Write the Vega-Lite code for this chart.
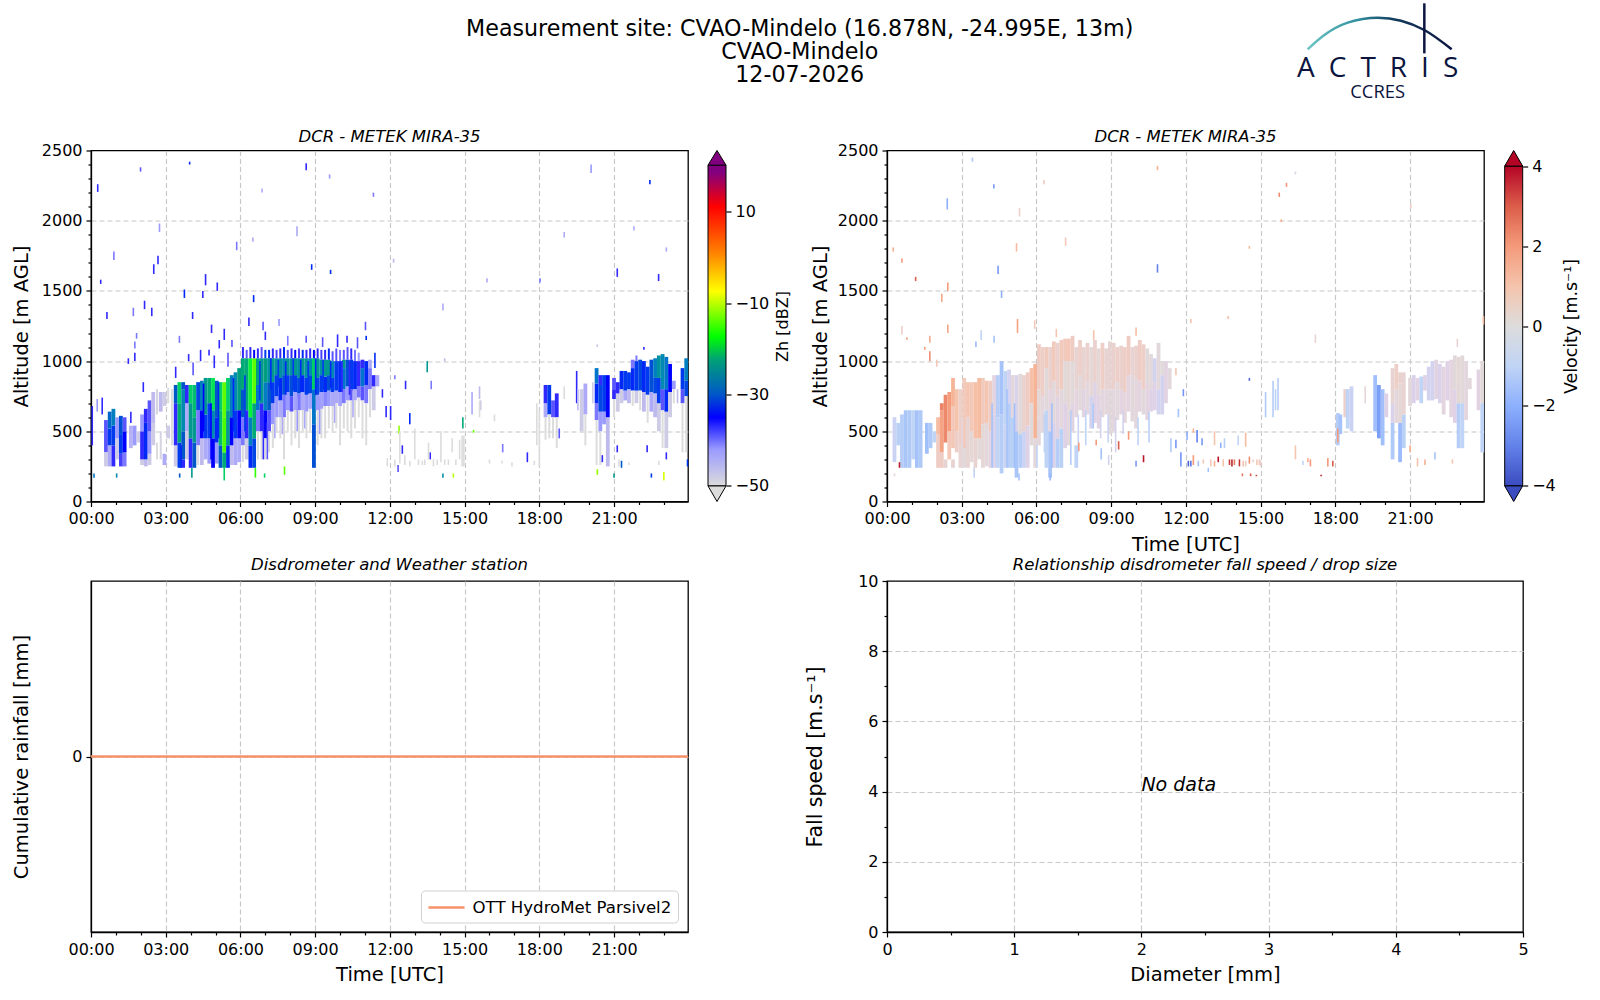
{"$schema":"https://vega.github.io/schema/vega-lite/v6.json","padding":{"left":10,"top":0,"right":0,"bottom":0},"background":"white",
"title":{"text":["Measurement site: CVAO-Mindelo (16.878N, -24.995E, 13m)","CVAO-Mindelo","12-07-2026"],"font":"DejaVu Sans","fontSize":22.2,"fontStyle":"normal","fontWeight":"normal","lineHeight":23,"anchor":"middle","offset":-86,"dx":4.5,"color":"#000"},
"config":{"view":{"stroke":null},"font":"DejaVu Sans","axis":{"labelFont":"DejaVu Sans","titleFont":"DejaVu Sans","labelFontSize":16,"titleFontSize":19.5,"titleFontWeight":"normal","titlePadding":8.5,"labelColor":"#000","titleColor":"#000","tickColor":"#000","domainColor":"#000","domainWidth":1.3,"tickWidth":1.2,"labelOverlap":false,"labelBound":false,"labelFlush":false,"zindex":1,"gridColor":"#c8c8c8","gridDash":[5,3],"gridWidth":1.2,"labelPadding":4},"title":{"font":"DejaVu Sans","fontStyle":"italic","fontWeight":"normal","fontSize":16.5,"color":"#000"},"legend":{"labelFont":"DejaVu Sans"}},
"columns":4,"bounds":"flush","align":"none","spacing":{"row":79.5,"column":20},
"datasets":{
"zcols":[
{"t":0.6,"a":350,"b":580,"z":-38},{"t":0.6,"a":250,"b":350,"z":-48},{"t":0.75,"a":250,"b":400,"z":-44},{"t":0.75,"a":400,"b":520,"z":-33},{"t":0.75,"a":520,"b":640,"z":-29},{"t":0.9,"a":250,"b":400,"z":-36},{"t":0.9,"a":400,"b":540,"z":-33},{"t":0.9,"a":540,"b":660,"z":-27},{"t":1.05,"a":300,"b":450,"z":-48},{"t":1.05,"a":450,"b":600,"z":-42},{"t":1.2,"a":250,"b":340,"z":-37},{"t":1.2,"a":340,"b":480,"z":-33},{"t":1.2,"a":480,"b":610,"z":-31},{"t":1.35,"a":250,"b":350,"z":-40},{"t":1.35,"a":350,"b":500,"z":-35},{"t":1.35,"a":500,"b":600,"z":-38},
{"t":1.6,"a":380,"b":540,"z":-45},{"t":1.75,"a":400,"b":540,"z":-42},{"t":1.9,"a":420,"b":500,"z":-48},
{"t":2.05,"a":260,"b":300,"z":-48},{"t":2.05,"a":300,"b":500,"z":-36},{"t":2.05,"a":500,"b":620,"z":-42},{"t":2.2,"a":250,"b":300,"z":-46},{"t":2.2,"a":300,"b":560,"z":-34},{"t":2.2,"a":560,"b":660,"z":-36},{"t":2.35,"a":260,"b":340,"z":-48},{"t":2.35,"a":340,"b":500,"z":-42},{"t":2.35,"a":500,"b":720,"z":-38},{"t":2.5,"a":400,"b":560,"z":-48},{"t":2.5,"a":560,"b":780,"z":-46},{"t":2.65,"a":300,"b":420,"z":-50},{"t":2.65,"a":620,"b":800,"z":-49},{"t":2.8,"a":300,"b":500,"z":-49},{"t":2.8,"a":640,"b":780,"z":-46},{"t":2.95,"a":260,"b":340,"z":-44},{"t":2.95,"a":680,"b":780,"z":-48},{"t":3.1,"a":450,"b":540,"z":-48},{"t":3.1,"a":700,"b":810,"z":-50},{"t":3.25,"a":400,"b":800,"z":-50},
{"t":3.4,"a":250,"b":400,"z":-48},{"t":3.4,"a":400,"b":700,"z":-36},{"t":3.4,"a":700,"b":830,"z":-30},
{"t":3.55,"a":240,"b":420,"z":-33},{"t":3.55,"a":420,"b":700,"z":-22},{"t":3.55,"a":700,"b":850,"z":-20},
{"t":3.7,"a":240,"b":300,"z":-36},{"t":3.7,"a":300,"b":500,"z":-30},{"t":3.7,"a":500,"b":800,"z":-26},{"t":3.7,"a":800,"b":850,"z":-30},
{"t":3.85,"a":300,"b":500,"z":-48},{"t":3.85,"a":500,"b":700,"z":-44},{"t":3.85,"a":700,"b":830,"z":-36},
{"t":4.0,"a":240,"b":450,"z":-36},{"t":4.0,"a":450,"b":700,"z":-24},{"t":4.0,"a":700,"b":830,"z":-20},
{"t":4.15,"a":240,"b":420,"z":-30},{"t":4.15,"a":420,"b":600,"z":-24},{"t":4.15,"a":600,"b":830,"z":-21},
{"t":4.3,"a":260,"b":400,"z":-50},{"t":4.3,"a":400,"b":650,"z":-40},{"t":4.3,"a":650,"b":850,"z":-32},
{"t":4.45,"a":260,"b":450,"z":-46},{"t":4.45,"a":450,"b":650,"z":-35},{"t":4.45,"a":650,"b":860,"z":-27},
{"t":4.6,"a":300,"b":450,"z":-44},{"t":4.6,"a":450,"b":620,"z":-33},{"t":4.6,"a":620,"b":880,"z":-24},
{"t":4.75,"a":270,"b":450,"z":-42},{"t":4.75,"a":450,"b":700,"z":-33},{"t":4.75,"a":700,"b":880,"z":-22},
{"t":4.9,"a":240,"b":450,"z":-35},{"t":4.9,"a":450,"b":650,"z":-26},{"t":4.9,"a":650,"b":880,"z":-19},
{"t":5.05,"a":270,"b":420,"z":-42},{"t":5.05,"a":420,"b":600,"z":-34},{"t":5.05,"a":600,"b":860,"z":-30},
{"t":5.2,"a":240,"b":400,"z":-30},{"t":5.2,"a":400,"b":650,"z":-21},{"t":5.2,"a":650,"b":850,"z":-20},
{"t":5.35,"a":240,"b":350,"z":-22},{"t":5.35,"a":350,"b":600,"z":-16.5},{"t":5.35,"a":600,"b":850,"z":-16},
{"t":5.5,"a":240,"b":400,"z":-34},{"t":5.5,"a":400,"b":650,"z":-24},{"t":5.5,"a":650,"b":880,"z":-20},
{"t":5.65,"a":260,"b":400,"z":-46},{"t":5.65,"a":400,"b":600,"z":-35},{"t":5.65,"a":600,"b":900,"z":-27},
{"t":5.8,"a":260,"b":450,"z":-44},{"t":5.8,"a":450,"b":650,"z":-33},{"t":5.8,"a":650,"b":920,"z":-26},
{"t":5.95,"a":280,"b":450,"z":-44},{"t":5.95,"a":450,"b":650,"z":-35},{"t":5.95,"a":650,"b":950,"z":-23},
{"t":6.1,"a":280,"b":400,"z":-50},{"t":6.1,"a":400,"b":600,"z":-40},{"t":6.1,"a":600,"b":800,"z":-30},{"t":6.1,"a":800,"b":1020,"z":-22},{"t":6.1,"a":1020,"b":1100,"z":-36},
{"t":6.25,"a":300,"b":450,"z":-48},{"t":6.25,"a":450,"b":650,"z":-36},{"t":6.25,"a":650,"b":1020,"z":-22},{"t":6.25,"a":1020,"b":1080,"z":-38},
{"t":6.4,"a":240,"b":400,"z":-34},{"t":6.4,"a":400,"b":600,"z":-27},{"t":6.4,"a":600,"b":1020,"z":-18},{"t":6.4,"a":1020,"b":1100,"z":-36},
{"t":6.55,"a":240,"b":450,"z":-32},{"t":6.55,"a":450,"b":700,"z":-22},{"t":6.55,"a":700,"b":1020,"z":-16},{"t":6.55,"a":1020,"b":1080,"z":-35},
{"t":6.7,"a":300,"b":500,"z":-50},{"t":6.7,"a":500,"b":650,"z":-40},{"t":6.7,"a":650,"b":830,"z":-28},{"t":6.7,"a":830,"b":1020,"z":-23},{"t":6.7,"a":1020,"b":1090,"z":-36},
{"t":6.85,"a":300,"b":500,"z":-50},{"t":6.85,"a":500,"b":700,"z":-36},{"t":6.85,"a":700,"b":1020,"z":-24},{"t":6.85,"a":1020,"b":1100,"z":-38},
{"t":7.0,"a":300,"b":450,"z":-50},{"t":7.0,"a":450,"b":650,"z":-35},{"t":7.0,"a":650,"b":850,"z":-27},{"t":7.0,"a":850,"b":1020,"z":-23},{"t":7.0,"a":1020,"b":1080,"z":-33},
{"t":7.15,"a":350,"b":500,"z":-50},{"t":7.15,"a":500,"b":650,"z":-38},{"t":7.15,"a":650,"b":850,"z":-30},{"t":7.15,"a":850,"b":1020,"z":-25},{"t":7.15,"a":1020,"b":1080,"z":-34},
{"t":7.3,"a":380,"b":550,"z":-50},{"t":7.3,"a":550,"b":700,"z":-42},{"t":7.3,"a":700,"b":850,"z":-33},{"t":7.3,"a":850,"b":1020,"z":-24},{"t":7.3,"a":1020,"b":1090,"z":-36},
{"t":7.45,"a":500,"b":600,"z":-50},{"t":7.45,"a":600,"b":750,"z":-42},{"t":7.45,"a":750,"b":900,"z":-33},{"t":7.45,"a":900,"b":1020,"z":-25},{"t":7.45,"a":1020,"b":1080,"z":-37},
{"t":7.6,"a":450,"b":600,"z":-50},{"t":7.6,"a":600,"b":720,"z":-44},{"t":7.6,"a":720,"b":880,"z":-34},{"t":7.6,"a":880,"b":1020,"z":-25},{"t":7.6,"a":1020,"b":1090,"z":-36},
{"t":7.75,"a":300,"b":600,"z":-50},{"t":7.75,"a":600,"b":760,"z":-40},{"t":7.75,"a":760,"b":900,"z":-31},{"t":7.75,"a":900,"b":1020,"z":-26},{"t":7.75,"a":1020,"b":1100,"z":-34},
{"t":7.9,"a":500,"b":650,"z":-50},{"t":7.9,"a":650,"b":780,"z":-42},{"t":7.9,"a":780,"b":900,"z":-33},{"t":7.9,"a":900,"b":1020,"z":-24},{"t":7.9,"a":1020,"b":1080,"z":-38},
{"t":8.05,"a":400,"b":640,"z":-50},{"t":8.05,"a":640,"b":750,"z":-38},{"t":8.05,"a":750,"b":900,"z":-31},{"t":8.05,"a":900,"b":1020,"z":-25},{"t":8.05,"a":1020,"b":1090,"z":-36},
{"t":8.2,"a":450,"b":650,"z":-50},{"t":8.2,"a":650,"b":780,"z":-43},{"t":8.2,"a":780,"b":900,"z":-33},{"t":8.2,"a":900,"b":1020,"z":-24},{"t":8.2,"a":1020,"b":1080,"z":-35},
{"t":8.35,"a":380,"b":650,"z":-50},{"t":8.35,"a":650,"b":770,"z":-40},{"t":8.35,"a":770,"b":880,"z":-32},{"t":8.35,"a":880,"b":1020,"z":-25},{"t":8.35,"a":1020,"b":1090,"z":-37},
{"t":8.5,"a":500,"b":650,"z":-50},{"t":8.5,"a":650,"b":780,"z":-44},{"t":8.5,"a":780,"b":900,"z":-34},{"t":8.5,"a":900,"b":1020,"z":-24},{"t":8.5,"a":1020,"b":1080,"z":-34},
{"t":8.65,"a":450,"b":640,"z":-50},{"t":8.65,"a":640,"b":760,"z":-42},{"t":8.65,"a":760,"b":880,"z":-33},{"t":8.65,"a":880,"b":1020,"z":-25},{"t":8.65,"a":1020,"b":1080,"z":-36},
{"t":8.8,"a":500,"b":660,"z":-50},{"t":8.8,"a":660,"b":770,"z":-43},{"t":8.8,"a":770,"b":900,"z":-32},{"t":8.8,"a":900,"b":1020,"z":-26},{"t":8.8,"a":1020,"b":1090,"z":-36},
{"t":8.95,"a":240,"b":550,"z":-31},{"t":8.95,"a":550,"b":800,"z":-28},{"t":8.95,"a":800,"b":1020,"z":-20},{"t":8.95,"a":1020,"b":1080,"z":-35},
{"t":9.1,"a":400,"b":650,"z":-50},{"t":9.1,"a":650,"b":760,"z":-42},{"t":9.1,"a":760,"b":880,"z":-32},{"t":9.1,"a":880,"b":1020,"z":-24},{"t":9.1,"a":1020,"b":1090,"z":-36},
{"t":9.25,"a":450,"b":660,"z":-50},{"t":9.25,"a":660,"b":780,"z":-43},{"t":9.25,"a":780,"b":900,"z":-33},{"t":9.25,"a":900,"b":1010,"z":-25},{"t":9.25,"a":1010,"b":1080,"z":-37},
{"t":9.4,"a":450,"b":680,"z":-50},{"t":9.4,"a":680,"b":780,"z":-41},{"t":9.4,"a":780,"b":890,"z":-34},{"t":9.4,"a":890,"b":1010,"z":-24},{"t":9.4,"a":1010,"b":1080,"z":-36},
{"t":9.55,"a":520,"b":680,"z":-50},{"t":9.55,"a":680,"b":790,"z":-42},{"t":9.55,"a":790,"b":900,"z":-31},{"t":9.55,"a":900,"b":1010,"z":-24},{"t":9.55,"a":1010,"b":1090,"z":-34},
{"t":9.7,"a":500,"b":680,"z":-50},{"t":9.7,"a":680,"b":780,"z":-44},{"t":9.7,"a":780,"b":880,"z":-33},{"t":9.7,"a":880,"b":1000,"z":-26},{"t":9.7,"a":1000,"b":1070,"z":-38},
{"t":9.85,"a":520,"b":700,"z":-50},{"t":9.85,"a":700,"b":790,"z":-44},{"t":9.85,"a":790,"b":1000,"z":-33},{"t":9.85,"a":1000,"b":1090,"z":-38},
{"t":10.0,"a":400,"b":680,"z":-50},{"t":10.0,"a":680,"b":780,"z":-43},{"t":10.0,"a":780,"b":1000,"z":-34},{"t":10.0,"a":1000,"b":1080,"z":-40},
{"t":10.15,"a":520,"b":700,"z":-50},{"t":10.15,"a":700,"b":800,"z":-40},{"t":10.15,"a":800,"b":950,"z":-28},{"t":10.15,"a":950,"b":1010,"z":-24},{"t":10.15,"a":1010,"b":1080,"z":-38},
{"t":10.3,"a":500,"b":720,"z":-50},{"t":10.3,"a":720,"b":820,"z":-42},{"t":10.3,"a":820,"b":1010,"z":-31},{"t":10.3,"a":1010,"b":1100,"z":-38},
{"t":10.45,"a":450,"b":720,"z":-50},{"t":10.45,"a":720,"b":800,"z":-38},{"t":10.45,"a":800,"b":1010,"z":-33},{"t":10.45,"a":1010,"b":1090,"z":-36},
{"t":10.6,"a":520,"b":720,"z":-50},{"t":10.6,"a":720,"b":800,"z":-44},{"t":10.6,"a":800,"b":1000,"z":-34},{"t":10.6,"a":1000,"b":1080,"z":-40},
{"t":10.75,"a":600,"b":740,"z":-50},{"t":10.75,"a":740,"b":820,"z":-40},{"t":10.75,"a":820,"b":1000,"z":-36},{"t":10.75,"a":1000,"b":1060,"z":-42},
{"t":10.9,"a":450,"b":720,"z":-50},{"t":10.9,"a":720,"b":820,"z":-38},{"t":10.9,"a":820,"b":950,"z":-28},{"t":10.9,"a":950,"b":1010,"z":-36},
{"t":11.05,"a":400,"b":700,"z":-50},{"t":11.05,"a":700,"b":830,"z":-40},{"t":11.05,"a":830,"b":1000,"z":-34},
{"t":11.2,"a":600,"b":800,"z":-50},{"t":11.2,"a":800,"b":950,"z":-40},{"t":11.2,"a":950,"b":1010,"z":-44},
{"t":11.35,"a":650,"b":820,"z":-48},{"t":11.35,"a":820,"b":900,"z":-36},{"t":11.5,"a":820,"b":900,"z":-44},
{"t":18.25,"a":440,"b":600,"z":-50},{"t":18.25,"a":600,"b":700,"z":-44},{"t":18.25,"a":700,"b":830,"z":-36},{"t":18.4,"a":450,"b":620,"z":-50},{"t":18.4,"a":620,"b":830,"z":-33},{"t":18.55,"a":450,"b":600,"z":-50},{"t":18.55,"a":600,"b":720,"z":-38},{"t":18.7,"a":380,"b":600,"z":-50},{"t":18.7,"a":600,"b":770,"z":-36},
{"t":19.7,"a":500,"b":800,"z":-48},{"t":19.85,"a":400,"b":620,"z":-50},{"t":19.85,"a":620,"b":840,"z":-44},
{"t":20.3,"a":260,"b":580,"z":-50},{"t":20.3,"a":580,"b":700,"z":-40},{"t":20.3,"a":700,"b":840,"z":-34},{"t":20.3,"a":840,"b":950,"z":-28},{"t":20.45,"a":260,"b":500,"z":-50},{"t":20.45,"a":500,"b":640,"z":-42},{"t":20.45,"a":640,"b":830,"z":-32},{"t":20.45,"a":830,"b":900,"z":-36},{"t":20.6,"a":550,"b":640,"z":-42},{"t":20.6,"a":640,"b":900,"z":-33},{"t":20.75,"a":250,"b":600,"z":-46},{"t":20.75,"a":600,"b":900,"z":-35},
{"t":21.0,"a":600,"b":730,"z":-50},{"t":21.0,"a":730,"b":800,"z":-36},{"t":21.0,"a":800,"b":880,"z":-38},{"t":21.15,"a":640,"b":770,"z":-48},{"t":21.15,"a":770,"b":850,"z":-36},{"t":21.3,"a":700,"b":800,"z":-48},{"t":21.3,"a":800,"b":930,"z":-34},{"t":21.45,"a":720,"b":790,"z":-44},{"t":21.45,"a":790,"b":930,"z":-33},{"t":21.6,"a":700,"b":800,"z":-46},{"t":21.6,"a":800,"b":920,"z":-33},{"t":21.75,"a":680,"b":790,"z":-50},{"t":21.75,"a":790,"b":950,"z":-34},{"t":21.75,"a":950,"b":1010,"z":-40},{"t":21.9,"a":700,"b":790,"z":-48},{"t":21.9,"a":790,"b":1000,"z":-33},{"t":21.9,"a":1000,"b":1040,"z":-40},{"t":22.05,"a":650,"b":790,"z":-50},{"t":22.05,"a":790,"b":1010,"z":-32},{"t":22.2,"a":640,"b":780,"z":-46},{"t":22.2,"a":780,"b":1000,"z":-34},{"t":22.35,"a":560,"b":760,"z":-50},{"t":22.35,"a":760,"b":960,"z":-33},{"t":22.5,"a":640,"b":780,"z":-44},{"t":22.5,"a":780,"b":1010,"z":-31},{"t":22.65,"a":600,"b":770,"z":-46},{"t":22.65,"a":770,"b":880,"z":-32},{"t":22.65,"a":880,"b":1020,"z":-27},{"t":22.8,"a":500,"b":700,"z":-48},{"t":22.8,"a":700,"b":880,"z":-33},{"t":22.8,"a":880,"b":1040,"z":-25},{"t":22.95,"a":380,"b":650,"z":-50},{"t":22.95,"a":650,"b":800,"z":-38},{"t":22.95,"a":800,"b":1050,"z":-26},{"t":23.1,"a":380,"b":640,"z":-48},{"t":23.1,"a":640,"b":800,"z":-34},{"t":23.1,"a":800,"b":1030,"z":-28},{"t":23.25,"a":600,"b":780,"z":-48},{"t":23.25,"a":780,"b":980,"z":-35},{"t":23.4,"a":700,"b":800,"z":-50},{"t":23.4,"a":800,"b":860,"z":-42},{"t":23.75,"a":350,"b":700,"z":-50},{"t":23.75,"a":700,"b":800,"z":-38},{"t":23.75,"a":800,"b":950,"z":-33},{"t":23.9,"a":350,"b":750,"z":-50},{"t":23.9,"a":750,"b":860,"z":-32},{"t":23.9,"a":860,"b":1020,"z":-27}],
"zspecks":[
{"t":7.22,"a":800,"b":1020,"z":-34},{"t":7.52,"a":820,"b":1010,"z":-33},{"t":7.82,"a":760,"b":1000,"z":-34},{"t":8.12,"a":790,"b":1020,"z":-33},{"t":8.42,"a":780,"b":1010,"z":-34},{"t":8.72,"a":770,"b":1000,"z":-33},{"t":9.02,"a":760,"b":1020,"z":-34},{"t":9.32,"a":800,"b":1010,"z":-33},{"t":9.62,"a":810,"b":1000,"z":-34},{"t":10.08,"a":780,"b":1000,"z":-36},{"t":10.38,"a":760,"b":1000,"z":-36},{"t":6.78,"a":720,"b":1000,"z":-33},{"t":6.18,"a":500,"b":900,"z":-33},{"t":5.72,"a":500,"b":880,"z":-34},{"t":5.12,"a":450,"b":850,"z":-34},{"t":4.52,"a":500,"b":840,"z":-35},{"t":4.82,"a":300,"b":700,"z":-35},{"t":3.62,"a":240,"b":400,"z":-34},{"t":7.38,"a":450,"b":700,"z":-44},{"t":7.68,"a":480,"b":720,"z":-44},{"t":8.28,"a":500,"b":740,"z":-42},{"t":8.58,"a":520,"b":750,"z":-44},{"t":9.18,"a":480,"b":750,"z":-42},{"t":9.78,"a":560,"b":780,"z":-44},{"t":10.52,"a":600,"b":790,"z":-44},{"t":6.92,"a":300,"b":620,"z":-36},{"t":7.08,"a":300,"b":560,"z":-38},
{"t":0.05,"a":400,"b":680,"z":-36},{"t":0.27,"a":2205,"b":2260,"z":-36},{"t":1.99,"a":2350,"b":2380,"z":-38},{"t":3.96,"a":2400,"b":2420,"z":-34},{"t":8.64,"a":2360,"b":2410,"z":-36},{"t":9.58,"a":2300,"b":2330,"z":-42},{"t":11.34,"a":2170,"b":2200,"z":-40},{"t":20.08,"a":2340,"b":2400,"z":-42},{"t":22.44,"a":2260,"b":2290,"z":-34},{"t":6.87,"a":2200,"b":2230,"z":-44},{"t":2.75,"a":1920,"b":1980,"z":-42},{"t":8.27,"a":1890,"b":1960,"z":-44},{"t":6.5,"a":1850,"b":1880,"z":-44},{"t":5.85,"a":1790,"b":1850,"z":-40},{"t":0.92,"a":1720,"b":1780,"z":-40},{"t":2.69,"a":1690,"b":1750,"z":-36},{"t":2.52,"a":1620,"b":1690,"z":-36},{"t":8.86,"a":1650,"b":1690,"z":-34},{"t":9.62,"a":1620,"b":1650,"z":-34},{"t":4.6,"a":1540,"b":1620,"z":-36},{"t":0.39,"a":1550,"b":1580,"z":-36},{"t":5.07,"a":1500,"b":1560,"z":-36},{"t":4.49,"a":1450,"b":1500,"z":-36},{"t":3.75,"a":1450,"b":1510,"z":-34},{"t":2.15,"a":1370,"b":1430,"z":-36},{"t":6.53,"a":1420,"b":1470,"z":-34},{"t":1.7,"a":1320,"b":1380,"z":-40},{"t":2.44,"a":1320,"b":1380,"z":-36},{"t":4.08,"a":1300,"b":1350,"z":-36},{"t":0.64,"a":1300,"b":1350,"z":-36},{"t":21.13,"a":1600,"b":1660,"z":-36},{"t":22.79,"a":1570,"b":1620,"z":-36},{"t":15.9,"a":1560,"b":1590,"z":-44},{"t":14.13,"a":1360,"b":1410,"z":-44},{"t":18.03,"a":1560,"b":1590,"z":-40},{"t":19.0,"a":1880,"b":1920,"z":-44},{"t":21.8,"a":1930,"b":1960,"z":-44},{"t":23.1,"a":1780,"b":1810,"z":-44},{"t":12.15,"a":1700,"b":1730,"z":-46},
{"t":4.84,"a":1200,"b":1260,"z":-36},{"t":5.35,"a":1150,"b":1230,"z":-36},{"t":6.34,"a":1250,"b":1310,"z":-36},{"t":6.91,"a":1220,"b":1280,"z":-38},{"t":7.55,"a":1250,"b":1300,"z":-42},{"t":7,"a":1150,"b":1210,"z":-36},{"t":8.64,"a":1130,"b":1180,"z":-38},{"t":11.02,"a":1220,"b":1280,"z":-38},{"t":11.05,"a":1150,"b":1180,"z":-34},{"t":10.28,"a":1130,"b":1180,"z":-36},{"t":5.15,"a":1090,"b":1150,"z":-36},{"t":5.66,"a":1100,"b":1150,"z":-38},{"t":4.74,"a":1040,"b":1080,"z":-36},{"t":3.92,"a":1000,"b":1050,"z":-36},{"t":3.55,"a":1130,"b":1180,"z":-40},{"t":1.83,"a":1160,"b":1200,"z":-40},{"t":1.76,"a":1090,"b":1140,"z":-40},{"t":1.5,"a":980,"b":1020,"z":-36},{"t":1.76,"a":1000,"b":1060,"z":-36},{"t":4.4,"a":1000,"b":1080,"z":-36},{"t":4.95,"a":950,"b":1040,"z":-36},{"t":5.5,"a":960,"b":1060,"z":-38},{"t":4.1,"a":900,"b":990,"z":-38},{"t":3.4,"a":880,"b":960,"z":-36},{"t":2.1,"a":780,"b":850,"z":-36},{"t":1.6,"a":560,"b":640,"z":-36},{"t":0.45,"a":620,"b":740,"z":-36},{"t":0.25,"a":640,"b":730,"z":-42},{"t":7.9,"a":1110,"b":1180,"z":-40},{"t":9.3,"a":1100,"b":1170,"z":-38},{"t":9.9,"a":1100,"b":1190,"z":-36},{"t":10.7,"a":1090,"b":1170,"z":-38},{"t":11.4,"a":950,"b":1060,"z":-34},
{"t":20.33,"a":1100,"b":1120,"z":-48},{"t":22.2,"a":1080,"b":1100,"z":-36},{"t":13.5,"a":920,"b":1000,"z":-24},{"t":14.2,"a":1000,"b":1020,"z":-46},
{"t":0.12,"a":170,"b":200,"z":-28},{"t":1.03,"a":170,"b":200,"z":-26},{"t":3.56,"a":170,"b":200,"z":-30},{"t":4.05,"a":170,"b":240,"z":-24},{"t":5.35,"a":150,"b":240,"z":-20},{"t":6.6,"a":170,"b":240,"z":-17},{"t":6.97,"a":170,"b":200,"z":-20},{"t":7.77,"a":190,"b":250,"z":-16},{"t":14.13,"a":170,"b":200,"z":-25},{"t":14.55,"a":170,"b":200,"z":-12},{"t":20.33,"a":190,"b":230,"z":-14},{"t":21,"a":170,"b":200,"z":-24},{"t":22.5,"a":170,"b":200,"z":-33},{"t":23,"a":150,"b":210,"z":-10},
{"t":12.37,"a":480,"b":540,"z":-14},{"t":14.93,"a":520,"b":600,"z":-22},{"t":15.36,"a":490,"b":510,"z":-16},{"t":12.33,"a":210,"b":260,"z":-38},{"t":17.52,"a":280,"b":350,"z":-36},{"t":12.03,"a":580,"b":680,"z":-36},{"t":12.63,"a":800,"b":860,"z":-36},{"t":13.66,"a":800,"b":860,"z":-40},{"t":12.5,"a":340,"b":400,"z":-36},{"t":13.62,"a":300,"b":350,"z":-36},{"t":16.53,"a":350,"b":410,"z":-40},{"t":23.1,"a":300,"b":350,"z":-36},{"t":22.33,"a":350,"b":400,"z":-36},{"t":20.53,"a":280,"b":330,"z":-36},{"t":21.3,"a":240,"b":290,"z":-30},{"t":23.95,"a":250,"b":300,"z":-33},{"t":21.13,"a":350,"b":400,"z":-36},{"t":15.6,"a":730,"b":820,"z":-46},{"t":11.7,"a":740,"b":800,"z":-36},{"t":11.85,"a":600,"b":680,"z":-36},{"t":12.8,"a":550,"b":630,"z":-34},{"t":12.2,"a":870,"b":900,"z":-40},{"t":18.8,"a":450,"b":520,"z":-38},{"t":19.5,"a":700,"b":930,"z":-36},{"t":19.55,"a":650,"b":800,"z":-46},{"t":20.15,"a":700,"b":850,"z":-48},{"t":23.55,"a":700,"b":800,"z":-46},{"t":15.3,"a":620,"b":780,"z":-44},{"t":15.65,"a":650,"b":720,"z":-48},{"t":19,"a":730,"b":820,"z":-50},
{"t":11.9,"a":250,"b":310,"z":-50},{"t":12.2,"a":250,"b":300,"z":-50},{"t":12.6,"a":260,"b":330,"z":-50},{"t":12.8,"a":250,"b":290,"z":-50},{"t":13,"a":300,"b":520,"z":-50},{"t":13.15,"a":260,"b":300,"z":-50},{"t":13.3,"a":260,"b":290,"z":-50},{"t":13.4,"a":260,"b":300,"z":-50},{"t":13.55,"a":300,"b":420,"z":-50},{"t":13.75,"a":250,"b":300,"z":-50},{"t":13.9,"a":260,"b":300,"z":-50},{"t":14.05,"a":280,"b":500,"z":-50},{"t":14.2,"a":260,"b":300,"z":-50},{"t":14.35,"a":260,"b":300,"z":-50},{"t":14.5,"a":350,"b":450,"z":-50},{"t":14.65,"a":260,"b":300,"z":-50},{"t":14.8,"a":300,"b":440,"z":-50},{"t":14.9,"a":250,"b":470,"z":-50},{"t":14.97,"a":250,"b":470,"z":-50},{"t":15.6,"a":600,"b":720,"z":-50},{"t":16,"a":270,"b":300,"z":-50},{"t":16.2,"a":570,"b":620,"z":-50},{"t":16.5,"a":270,"b":290,"z":-50},{"t":16.9,"a":250,"b":280,"z":-50},{"t":17.8,"a":260,"b":290,"z":-50},{"t":18,"a":250,"b":650,"z":-50},{"t":17.9,"a":400,"b":700,"z":-50},{"t":12.4,"a":270,"b":500,"z":-50},{"t":21.2,"a":250,"b":300,"z":-50},{"t":21.6,"a":260,"b":280,"z":-50},{"t":22.8,"a":260,"b":290,"z":-50}],
"vcols":[
{"t":0.3,"a":280,"b":600,"v":-0.9},{"t":0.45,"a":400,"b":560,"v":-1.1},{"t":0.6,"a":240,"b":620,"v":-1.2},{"t":0.75,"a":240,"b":650,"v":-1.4},{"t":0.9,"a":240,"b":650,"v":-1.3},{"t":1.05,"a":300,"b":650,"v":-1},{"t":1.2,"a":240,"b":650,"v":-1.5},{"t":1.35,"a":240,"b":650,"v":-1.3},{"t":1.6,"a":340,"b":560,"v":-1.6},{"t":1.75,"a":380,"b":560,"v":-1.3},{"t":1.9,"a":420,"b":500,"v":-1},
{"t":2.05,"a":240,"b":480,"v":0.6},{"t":2.05,"a":480,"b":600,"v":1.2},{"t":2.2,"a":240,"b":350,"v":0.6},{"t":2.2,"a":350,"b":650,"v":1.8},{"t":2.2,"a":650,"b":700,"v":2.4},{"t":2.35,"a":240,"b":300,"v":0.3},{"t":2.35,"a":420,"b":760,"v":2.3},{"t":2.5,"a":300,"b":500,"v":0.8},{"t":2.5,"a":500,"b":780,"v":1.9},{"t":2.65,"a":240,"b":300,"v":0.3},{"t":2.65,"a":380,"b":680,"v":0.8},{"t":2.65,"a":680,"b":880,"v":1.4},{"t":2.8,"a":350,"b":500,"v":0.5},{"t":2.8,"a":500,"b":800,"v":1},{"t":2.95,"a":240,"b":400,"v":0.3},{"t":2.95,"a":400,"b":800,"v":0.5},{"t":3.1,"a":240,"b":380,"v":0.1},{"t":3.1,"a":380,"b":880,"v":0.7},{"t":3.25,"a":240,"b":600,"v":0.3},{"t":3.25,"a":600,"b":850,"v":0.9},{"t":3.4,"a":280,"b":500,"v":0.2},{"t":3.4,"a":500,"b":850,"v":0.8},{"t":3.55,"a":240,"b":450,"v":0.3},{"t":3.55,"a":450,"b":850,"v":1.1},{"t":3.7,"a":300,"b":450,"v":0.1},{"t":3.7,"a":450,"b":880,"v":1.2},{"t":3.85,"a":240,"b":550,"v":0.2},{"t":3.85,"a":550,"b":880,"v":0.7},{"t":4,"a":250,"b":560,"v":-0.2},{"t":4,"a":560,"b":860,"v":0.9},{"t":4.15,"a":240,"b":500,"v":-0.4},{"t":4.15,"a":500,"b":860,"v":0.6},
{"t":4.3,"a":240,"b":620,"v":-0.7},{"t":4.3,"a":620,"b":900,"v":-0.4},{"t":4.45,"a":240,"b":600,"v":-1},{"t":4.45,"a":600,"b":900,"v":-1.2},{"t":4.6,"a":200,"b":620,"v":-1.2},{"t":4.6,"a":620,"b":1000,"v":-1.5},{"t":4.75,"a":240,"b":550,"v":-0.9},{"t":4.75,"a":550,"b":930,"v":-1},{"t":4.9,"a":240,"b":700,"v":-1.2},{"t":4.9,"a":700,"b":940,"v":-0.8},{"t":5.05,"a":240,"b":600,"v":-1.1},{"t":5.05,"a":600,"b":900,"v":-0.3},{"t":5.2,"a":170,"b":500,"v":-1.4},{"t":5.2,"a":500,"b":900,"v":-0.7},{"t":5.35,"a":240,"b":480,"v":-1.2},{"t":5.35,"a":480,"b":910,"v":0.1},{"t":5.5,"a":240,"b":500,"v":-0.9},{"t":5.5,"a":500,"b":900,"v":0.4},{"t":5.65,"a":240,"b":540,"v":-0.6},{"t":5.65,"a":540,"b":920,"v":0.6},{"t":5.8,"a":400,"b":700,"v":0.1},{"t":5.8,"a":700,"b":950,"v":1.1},{"t":5.95,"a":240,"b":450,"v":-0.2},{"t":5.95,"a":450,"b":980,"v":1.4},{"t":6.1,"a":400,"b":600,"v":-0.3},{"t":6.1,"a":600,"b":800,"v":0.2},{"t":6.1,"a":800,"b":1120,"v":0.6},
{"t":6.25,"a":500,"b":750,"v":-0.3},{"t":6.25,"a":750,"b":1100,"v":0.5},{"t":6.4,"a":240,"b":650,"v":-1},{"t":6.4,"a":650,"b":950,"v":0.1},{"t":6.4,"a":950,"b":1100,"v":0.7},{"t":6.55,"a":170,"b":500,"v":-1.4},{"t":6.55,"a":500,"b":800,"v":-0.4},{"t":6.55,"a":800,"b":1100,"v":0.4},{"t":6.7,"a":240,"b":560,"v":-0.7},{"t":6.7,"a":560,"b":860,"v":-0.2},{"t":6.7,"a":860,"b":1140,"v":0.7},{"t":6.85,"a":240,"b":450,"v":-1.2},{"t":6.85,"a":450,"b":750,"v":-0.5},{"t":6.85,"a":750,"b":1130,"v":0.4},{"t":7,"a":240,"b":520,"v":-1.1},{"t":7,"a":520,"b":800,"v":-0.3},{"t":7,"a":800,"b":1150,"v":0.7},{"t":7.15,"a":380,"b":700,"v":-0.6},{"t":7.15,"a":700,"b":1000,"v":0.1},{"t":7.15,"a":1000,"b":1160,"v":0.7},{"t":7.3,"a":400,"b":650,"v":-0.3},{"t":7.3,"a":650,"b":1000,"v":0.2},{"t":7.3,"a":1000,"b":1160,"v":0.8},{"t":7.45,"a":500,"b":700,"v":-0.5},{"t":7.45,"a":700,"b":1000,"v":0.1},{"t":7.45,"a":1000,"b":1180,"v":0.6},{"t":7.6,"a":240,"b":400,"v":-1},{"t":7.6,"a":600,"b":800,"v":-0.4},{"t":7.6,"a":800,"b":1100,"v":0.3},{"t":7.75,"a":650,"b":900,"v":-0.2},{"t":7.75,"a":900,"b":1150,"v":0.5},{"t":7.9,"a":600,"b":800,"v":-0.5},{"t":7.9,"a":800,"b":1100,"v":0.3},{"t":8.05,"a":620,"b":850,"v":-0.3},{"t":8.05,"a":850,"b":1130,"v":0.4},{"t":8.2,"a":520,"b":750,"v":-0.8},{"t":8.2,"a":750,"b":1100,"v":0.2},{"t":8.35,"a":560,"b":850,"v":-0.6},{"t":8.35,"a":850,"b":1150,"v":0.4},{"t":8.5,"a":520,"b":760,"v":-0.5},{"t":8.5,"a":760,"b":1090,"v":0.2},{"t":8.65,"a":600,"b":800,"v":-0.3},{"t":8.65,"a":800,"b":1130,"v":0.5},{"t":8.8,"a":620,"b":800,"v":-0.3},{"t":8.8,"a":800,"b":1090,"v":0.3},{"t":8.95,"a":480,"b":800,"v":-0.2},{"t":8.95,"a":800,"b":1140,"v":0.3},{"t":9.1,"a":500,"b":800,"v":-0.3},{"t":9.1,"a":800,"b":1130,"v":0.4},{"t":9.25,"a":580,"b":850,"v":-0.2},{"t":9.25,"a":850,"b":1100,"v":0.5},{"t":9.4,"a":620,"b":800,"v":-0.4},{"t":9.4,"a":800,"b":1110,"v":0.4},{"t":9.55,"a":560,"b":780,"v":-0.3},{"t":9.55,"a":780,"b":1100,"v":0.5},{"t":9.7,"a":640,"b":900,"v":-0.4},{"t":9.7,"a":900,"b":1180,"v":0.6},{"t":9.85,"a":570,"b":900,"v":-0.2},{"t":9.85,"a":900,"b":1100,"v":0.3},{"t":10,"a":520,"b":880,"v":-0.3},{"t":10,"a":880,"b":1110,"v":0.4},{"t":10.15,"a":640,"b":860,"v":-0.4},{"t":10.15,"a":860,"b":1150,"v":0.6},{"t":10.3,"a":620,"b":800,"v":-0.2},{"t":10.3,"a":800,"b":1120,"v":0.5},{"t":10.45,"a":580,"b":850,"v":-0.4},{"t":10.45,"a":850,"b":1090,"v":0.1},{"t":10.6,"a":640,"b":800,"v":-0.6},{"t":10.6,"a":800,"b":1050,"v":-0.2},{"t":10.75,"a":650,"b":850,"v":-0.6},{"t":10.75,"a":850,"b":1020,"v":-0.8},{"t":10.9,"a":620,"b":800,"v":-0.8},{"t":10.9,"a":800,"b":1130,"v":-0.2},{"t":11.05,"a":620,"b":900,"v":-0.8},{"t":11.05,"a":900,"b":1000,"v":-0.1},{"t":11.2,"a":700,"b":1000,"v":-0.5},{"t":11.35,"a":800,"b":950,"v":-0.2},
{"t":18.1,"a":400,"b":630,"v":-1.2},{"t":18.2,"a":480,"b":620,"v":-1.5},{"t":18.4,"a":600,"b":800,"v":0.4},{"t":18.5,"a":520,"b":800,"v":-1},{"t":18.65,"a":500,"b":820,"v":-0.9},{"t":19.6,"a":500,"b":900,"v":-1.6},{"t":19.75,"a":450,"b":830,"v":-2.4},{"t":19.9,"a":400,"b":800,"v":-1.6},{"t":20.05,"a":600,"b":770,"v":-0.6},{"t":20.3,"a":300,"b":560,"v":-1.3},{"t":20.3,"a":560,"b":700,"v":-0.7},{"t":20.3,"a":700,"b":950,"v":0.3},{"t":20.45,"a":560,"b":800,"v":-0.3},{"t":20.45,"a":800,"b":980,"v":0.5},{"t":20.6,"a":280,"b":560,"v":-1.7},{"t":20.6,"a":560,"b":840,"v":0.2},{"t":20.6,"a":840,"b":920,"v":0.4},{"t":20.75,"a":380,"b":620,"v":-1.1},{"t":20.75,"a":620,"b":920,"v":0.3},
{"t":21,"a":680,"b":880,"v":-0.2},{"t":21.15,"a":700,"b":900,"v":-0.7},{"t":21.3,"a":720,"b":880,"v":-0.5},{"t":21.45,"a":700,"b":890,"v":-1},{"t":21.6,"a":790,"b":900,"v":-0.6},{"t":21.75,"a":720,"b":960,"v":-0.8},{"t":21.9,"a":720,"b":1000,"v":-0.8},{"t":22.05,"a":730,"b":1010,"v":-0.5},{"t":22.2,"a":700,"b":980,"v":-0.7},{"t":22.35,"a":620,"b":960,"v":-0.4},{"t":22.5,"a":720,"b":1000,"v":-0.6},{"t":22.65,"a":600,"b":1010,"v":-0.4},{"t":22.8,"a":560,"b":800,"v":-0.6},{"t":22.8,"a":800,"b":1040,"v":0.1},{"t":22.95,"a":380,"b":700,"v":-1.2},{"t":22.95,"a":700,"b":1030,"v":0.2},{"t":23.1,"a":380,"b":700,"v":-1},{"t":23.1,"a":700,"b":1040,"v":0.1},{"t":23.25,"a":580,"b":1000,"v":-0.3},{"t":23.4,"a":800,"b":880,"v":-0.2},{"t":23.75,"a":650,"b":940,"v":-0.5},{"t":23.9,"a":350,"b":700,"v":-1},{"t":23.9,"a":700,"b":1000,"v":0.1}],
"vspecks":[
{"t":7.38,"a":260,"b":650,"v":-1.2},{"t":7.68,"a":350,"b":620,"v":-0.9},{"t":7.98,"a":400,"b":650,"v":-1},{"t":8.28,"a":520,"b":700,"v":-1.3},{"t":8.58,"a":450,"b":650,"v":-0.8},{"t":8.88,"a":420,"b":620,"v":-0.9},{"t":9.18,"a":350,"b":600,"v":-0.8},{"t":9.48,"a":480,"b":650,"v":-0.8},{"t":10.08,"a":400,"b":600,"v":-1},{"t":10.52,"a":420,"b":640,"v":-1.1},{"t":4.22,"a":240,"b":700,"v":-1.5},{"t":4.82,"a":240,"b":800,"v":-1.5},{"t":5.12,"a":240,"b":700,"v":-1.6},{"t":6.02,"a":240,"b":400,"v":-1},{"t":6.32,"a":350,"b":620,"v":-1},{"t":6.62,"a":240,"b":700,"v":-1.6},{"t":3.02,"a":240,"b":600,"v":-0.3},
{"t":0.25,"a":1780,"b":1810,"v":1.6},{"t":0.6,"a":1700,"b":1730,"v":2},{"t":1.15,"a":1570,"b":1600,"v":3},{"t":2.42,"a":2080,"b":2160,"v":-2},{"t":4.29,"a":2230,"b":2260,"v":-2.5},{"t":2.44,"a":1500,"b":1560,"v":2},{"t":2.2,"a":1420,"b":1480,"v":1.7},{"t":4.46,"a":1620,"b":1680,"v":-2.5},{"t":4.6,"a":1450,"b":1500,"v":-2},{"t":10.86,"a":1630,"b":1690,"v":-3},{"t":3.43,"a":2420,"b":2450,"v":-1.3},{"t":16.4,"a":2330,"b":2350,"v":-0.6},{"t":16.04,"a":2240,"b":2270,"v":2},{"t":15.75,"a":2170,"b":2200,"v":2.3},{"t":15.83,"a":1990,"b":2010,"v":1.5},{"t":10.86,"a":2360,"b":2390,"v":1.4},{"t":5.2,"a":1780,"b":1840,"v":1.2},{"t":7.17,"a":1820,"b":1880,"v":0.8},{"t":5.32,"a":2030,"b":2090,"v":0.5},{"t":6.3,"a":2260,"b":2290,"v":0.7},{"t":14.55,"a":1800,"b":1820,"v":1.3},{"t":13.7,"a":1300,"b":1320,"v":1.2},{"t":12.2,"a":1270,"b":1300,"v":1},{"t":21.03,"a":2090,"b":2120,"v":0.5},{"t":17.2,"a":1130,"b":1190,"v":0.3},{"t":23.95,"a":1260,"b":1320,"v":1.3},{"t":5.24,"a":1200,"b":1300,"v":1.8},{"t":5.93,"a":1230,"b":1290,"v":0.8},{"t":3.78,"a":1150,"b":1220,"v":-1},{"t":4.3,"a":1130,"b":1180,"v":-1.5},{"t":3.57,"a":1100,"b":1140,"v":-1.7},{"t":1.72,"a":1130,"b":1180,"v":1.6},{"t":1.72,"a":1000,"b":1070,"v":2.2},{"t":2,"a":960,"b":1010,"v":0.8},{"t":1.52,"a":1080,"b":1100,"v":2},{"t":2.44,"a":1200,"b":1260,"v":1.8},{"t":0.6,"a":1190,"b":1250,"v":0.5},{"t":0.8,"a":1150,"b":1170,"v":1.6},{"t":14.55,"a":860,"b":880,"v":-3.5},{"t":0.5,"a":240,"b":280,"v":3.8},{"t":17.43,"a":180,"b":190,"v":3.8},{"t":14.83,"a":180,"b":190,"v":3.5},{"t":14.27,"a":180,"b":200,"v":2.5},{"t":5.3,"a":150,"b":200,"v":-1.5},{"t":6.55,"a":150,"b":200,"v":-1.8},{"t":3.5,"a":170,"b":240,"v":-1},{"t":0.3,"a":180,"b":200,"v":0.3},{"t":12.9,"a":210,"b":240,"v":-1.5},{"t":22.9,"a":1100,"b":1160,"v":0.3},{"t":8.3,"a":1150,"b":1220,"v":1},{"t":6.8,"a":1170,"b":1230,"v":0.9},{"t":10,"a":1180,"b":1240,"v":1.2},
{"t":11.4,"a":350,"b":450,"v":-1.3},{"t":11.6,"a":380,"b":440,"v":-2.5},{"t":11.7,"a":600,"b":660,"v":-1.5},{"t":11.8,"a":250,"b":350,"v":-2.6},{"t":11.9,"a":750,"b":800,"v":-2.6},{"t":11.6,"a":900,"b":950,"v":0.9},{"t":9.3,"a":370,"b":430,"v":3},{"t":10,"a":250,"b":290,"v":-2.5},{"t":10.3,"a":280,"b":330,"v":3.9},{"t":9.7,"a":440,"b":500,"v":2},{"t":8.6,"a":300,"b":380,"v":-1.5},{"t":8.4,"a":400,"b":440,"v":2},{"t":8.9,"a":260,"b":330,"v":-0.8},{"t":7.7,"a":360,"b":420,"v":2},{"t":16.4,"a":300,"b":400,"v":1},{"t":16.7,"a":260,"b":290,"v":-1},{"t":16.9,"a":280,"b":310,"v":1.5},{"t":17,"a":250,"b":300,"v":2},{"t":17.7,"a":250,"b":310,"v":2},{"t":17.9,"a":250,"b":290,"v":3},{"t":18.1,"a":420,"b":520,"v":2},{"t":21.3,"a":250,"b":310,"v":1},{"t":21.6,"a":260,"b":300,"v":1.5},{"t":22,"a":300,"b":350,"v":-1.5},{"t":22.7,"a":270,"b":300,"v":1},{"t":21,"a":350,"b":400,"v":1.5},
{"t":12.1,"a":250,"b":290,"v":-3.6},{"t":12.2,"a":250,"b":290,"v":-3.2},{"t":12.3,"a":260,"b":330,"v":2},{"t":12.5,"a":250,"b":290,"v":-1.5},{"t":12.7,"a":270,"b":300,"v":0.8},{"t":13,"a":250,"b":300,"v":0.8},{"t":13.15,"a":250,"b":290,"v":1.5},{"t":13.3,"a":280,"b":320,"v":3.9},{"t":13.5,"a":250,"b":300,"v":1},{"t":13.75,"a":260,"b":300,"v":3.5},{"t":13.85,"a":250,"b":300,"v":3.8},{"t":13.95,"a":260,"b":300,"v":2.5},{"t":14.15,"a":250,"b":300,"v":3.6},{"t":14.3,"a":250,"b":290,"v":1},{"t":14.4,"a":250,"b":290,"v":0.6},{"t":14.55,"a":270,"b":320,"v":2.2},{"t":14.7,"a":280,"b":300,"v":0.5},{"t":14.85,"a":260,"b":300,"v":0.8},{"t":14.95,"a":260,"b":300,"v":0.7},{"t":15,"a":250,"b":290,"v":0.5},{"t":12.05,"a":440,"b":500,"v":-2},{"t":12.3,"a":490,"b":520,"v":1.4},{"t":12.45,"a":420,"b":510,"v":-3},{"t":12.65,"a":400,"b":450,"v":-2.5},{"t":13.15,"a":400,"b":500,"v":1},{"t":13.4,"a":380,"b":420,"v":-2},{"t":13.55,"a":380,"b":450,"v":-1.2},{"t":14.1,"a":400,"b":470,"v":-1},{"t":14.4,"a":390,"b":490,"v":1.2},{"t":14.6,"a":180,"b":200,"v":3},{"t":15.2,"a":600,"b":780,"v":-1.3},{"t":15.5,"a":600,"b":860,"v":-1.2},{"t":15.6,"a":650,"b":800,"v":-1.1},{"t":15.7,"a":650,"b":880,"v":-1.2},{"t":19.2,"a":700,"b":820,"v":0.2}]
},
"concat":[
{"width":597,"height":70.5,"data":{"values":[]},"mark":"rect"},
{"width":158.6,"height":70.5,"data":{"values":[]},"mark":"rect"},
{"width":597,"height":70.5,"layer":[
{"data":{"values":[{"x":80,"y":148},{"x":130,"y":105},{"x":200,"y":68},{"x":290,"y":53},{"x":360,"y":62},{"x":430,"y":90},{"x":512,"y":148}]},"mark":{"type":"line","interpolate":"monotone","strokeWidth":2.5,"stroke":{"gradient":"linear","x1":0,"y1":0,"x2":1,"y2":0,"stops":[{"offset":0,"color":"#6cc4c4"},{"offset":0.35,"color":"#2f8f9f"},{"offset":0.6,"color":"#123a5c"},{"offset":1,"color":"#0c1540"}]}},"encoding":{"x":{"field":"x","type":"quantitative","scale":{"domain":[-1182,609],"nice":false},"axis":null},"y":{"field":"y","type":"quantitative","scale":{"domain":[211.5,0],"nice":false},"axis":null}}},
{"data":{"values":[{"x":430,"y":10,"y2":160}]},"mark":{"type":"rule","strokeWidth":2.5,"stroke":"#0c1540"},"encoding":{"x":{"field":"x","type":"quantitative"},"y":{"field":"y","type":"quantitative"},"y2":{"field":"y2"}}},
{"data":{"values":[{"x":290,"y":232,"t":"A\u2002C\u2002T\u2002R\u2002I\u2002S","s":28},{"x":290,"y":295,"t":"CCRES","s":18.4}]},"mark":{"type":"text","font":"Open Sans","color":"#0c1540","align":"center","baseline":"alphabetic","fontWeight":500},"encoding":{"x":{"field":"x","type":"quantitative"},"y":{"field":"y","type":"quantitative"},"text":{"field":"t"},"size":{"field":"s","type":"quantitative","scale":null}}}
]},
{"width":18,"height":70.5,"data":{"values":[]},"mark":"rect"},
{"width":597,"height":351,"view":{"stroke":"#000","strokeWidth":1.3},"title":{"text":"DCR - METEK MIRA-35","offset":-2.5},"encoding":{"x":{"field":"t","type":"quantitative","title":null,"scale":{"domain":[0,23.97],"nice":false},"axis":{"values":[0,1,2,3,4,5,6,7,8,9,10,11,12,13,14,15,16,17,18,19,20,21,22,23],"labelExpr":"datum.value%3===0?((datum.value<10?'0':'')+datum.value+':00'):''","tickSize":{"condition":{"test":"datum.value%3===0","value":5},"value":3},"gridOpacity":{"condition":{"test":"datum.value%3===0&&datum.value>0","value":1},"value":0}}},"y":{"field":"a","type":"quantitative","title":"Altitude [m AGL]","scale":{"domain":[0,2500],"nice":false},"axis":{"titleX":-60,"values":[0,100,200,300,400,500,600,700,800,900,1000,1100,1200,1300,1400,1500,1600,1700,1800,1900,2000,2100,2200,2300,2400,2500],"format":"d","labelExpr":"datum.value%500===0?datum.label:''","tickSize":{"condition":{"test":"datum.value%500===0","value":5},"value":3},"gridOpacity":{"condition":{"test":"datum.value%500===0&&datum.value>0&&datum.value<2500","value":1},"value":0}}},"y2":{"field":"b"},"color":{"field":"z","type":"quantitative","legend":null,"scale":{"domain":[-50,-42,-35,-30,-22.5,-17.4,-7.5,1,11,18.5],"range":["#dcdcdc","#9a9aff","#0000ff","#0058c8","#00a078","#00ff00","#ffff00","#ff8000","#ff0000","#800080"]}}},"layer":[{"data":{"name":"zcols"},"transform":[{"filter":"datum.z>-49&&datum.a<1000"}],"mark":{"type":"rect","width":3.8}},{"data":{"name":"zcols"},"transform":[{"filter":"datum.z<=-49||datum.a>=1000"}],"mark":{"type":"rect","width":2}},{"data":{"name":"zspecks"},"mark":{"type":"rect","width":1.6}}]},
{"width":158.6,"height":351,"layer":[
{"data":{"values":[{"x":0,"x2":1,"y":-50,"y2":20.2}]},"mark":{"type":"rect","stroke":"#000","strokeWidth":1,"fill":{"gradient":"linear","x1":0,"y1":1,"x2":0,"y2":0,"stops":[{"offset":0,"color":"#dcdcdc"},{"offset":0.114,"color":"#9a9aff"},{"offset":0.214,"color":"#0000ff"},{"offset":0.286,"color":"#0058c8"},{"offset":0.393,"color":"#00a078"},{"offset":0.466,"color":"#00ff00"},{"offset":0.607,"color":"#ffff00"},{"offset":0.729,"color":"#ff8000"},{"offset":0.871,"color":"#ff0000"},{"offset":0.979,"color":"#800080"},{"offset":1,"color":"#800080"}]}},"encoding":{"x":{"field":"x","type":"quantitative","title":null,"scale":{"domain":[0,8.81],"nice":false},"axis":null},"x2":{"field":"x2"},"y":{"field":"y","type":"quantitative","title":"Zh [dBZ]","scale":{"domain":[-53.4,23.4],"nice":false},"axis":{"orient":"right","offset":-140.6,"values":[-50,-30,-10,10],"domain":false,"grid":false,"tickSize":5,"labelExpr":"replace(datum.label,'-','\u2212')","titleFontSize":16,"titleAngle":270,"titleBaseline":"middle","titleX":56}},"y2":{"field":"y2"}}},
{"data":{"values":[{"x":0,"y":20.2,"y2":20.2},{"x":0.5,"y":23.4,"y2":20.2},{"x":1,"y":20.2,"y2":20.2}]},"mark":{"type":"area","color":"#800080","stroke":"#000","strokeWidth":1},"encoding":{"x":{"field":"x","type":"quantitative"},"y":{"field":"y","type":"quantitative"},"y2":{"field":"y2"}}},
{"data":{"values":[{"x":0,"y":-50,"y2":-50},{"x":0.5,"y":-53.4,"y2":-50},{"x":1,"y":-50,"y2":-50}]},"mark":{"type":"area","color":"#dcdcdc","stroke":"#000","strokeWidth":1},"encoding":{"x":{"field":"x","type":"quantitative"},"y":{"field":"y","type":"quantitative"},"y2":{"field":"y2"}}}
]},
{"width":597,"height":351,"view":{"stroke":"#000","strokeWidth":1.3},"title":{"text":"DCR - METEK MIRA-35","offset":-2.5},"encoding":{"x":{"field":"t","type":"quantitative","title":"Time [UTC]","scale":{"domain":[0,23.97],"nice":false},"axis":{"values":[0,1,2,3,4,5,6,7,8,9,10,11,12,13,14,15,16,17,18,19,20,21,22,23],"labelExpr":"datum.value%3===0?((datum.value<10?'0':'')+datum.value+':00'):''","tickSize":{"condition":{"test":"datum.value%3===0","value":5},"value":3},"gridOpacity":{"condition":{"test":"datum.value%3===0&&datum.value>0","value":1},"value":0}}},"y":{"field":"a","type":"quantitative","title":"Altitude [m AGL]","scale":{"domain":[0,2500],"nice":false},"axis":{"titleX":-57,"values":[0,100,200,300,400,500,600,700,800,900,1000,1100,1200,1300,1400,1500,1600,1700,1800,1900,2000,2100,2200,2300,2400,2500],"format":"d","labelExpr":"datum.value%500===0?datum.label:''","tickSize":{"condition":{"test":"datum.value%500===0","value":5},"value":3},"gridOpacity":{"condition":{"test":"datum.value%500===0&&datum.value>0&&datum.value<2500","value":1},"value":0}}},"y2":{"field":"b"},"color":{"field":"v","type":"quantitative","legend":null,"scale":{"domain":[-4,-3,-2,-1,0,1,2,3,4],"range":["#3b4cc0","#6282ea","#8db0fe","#c0d4f5","#dddcdc","#f5c4ac","#f49a7b","#dc5d4a","#b40426"]}}},"layer":[{"data":{"name":"vcols"},"mark":{"type":"rect","width":3.8}},{"data":{"name":"vspecks"},"mark":{"type":"rect","width":1.6}}]},
{"width":18,"height":351,"layer":[
{"data":{"values":[{"x":-2.128,"x2":-1.128,"y":-4,"y2":4}]},"mark":{"type":"rect","stroke":"#000","strokeWidth":1,"fill":{"gradient":"linear","x1":0,"y1":1,"x2":0,"y2":0,"stops":[{"offset":0,"color":"#3b4cc0"},{"offset":0.125,"color":"#6282ea"},{"offset":0.25,"color":"#8db0fe"},{"offset":0.375,"color":"#c0d4f5"},{"offset":0.5,"color":"#dddcdc"},{"offset":0.625,"color":"#f5c4ac"},{"offset":0.75,"color":"#f49a7b"},{"offset":0.875,"color":"#dc5d4a"},{"offset":1,"color":"#b40426"}]}},"encoding":{"x":{"field":"x","type":"quantitative","title":null,"scale":{"domain":[0,1],"nice":false},"axis":null},"x2":{"field":"x2"},"y":{"field":"y","type":"quantitative","title":"Velocity [m.s\u207b\u00b9]","scale":{"domain":[-4.39,4.39],"nice":false},"axis":{"orient":"right","offset":-38.3,"values":[-4,-2,0,2,4],"domain":false,"grid":false,"tickSize":5,"labelExpr":"replace(datum.label,'-','\u2212')","titleFontSize":17.4,"titleAngle":270,"titleBaseline":"middle","titleX":49}},"y2":{"field":"y2"}}},
{"data":{"values":[{"x":-2.128,"y":4,"y2":4},{"x":-1.628,"y":4.39,"y2":4},{"x":-1.128,"y":4,"y2":4}]},"mark":{"type":"area","color":"#b40426","stroke":"#000","strokeWidth":1},"encoding":{"x":{"field":"x","type":"quantitative"},"y":{"field":"y","type":"quantitative"},"y2":{"field":"y2"}}},
{"data":{"values":[{"x":-2.128,"y":-4,"y2":-4},{"x":-1.628,"y":-4.39,"y2":-4},{"x":-1.128,"y":-4,"y2":-4}]},"mark":{"type":"area","color":"#3b4cc0","stroke":"#000","strokeWidth":1},"encoding":{"x":{"field":"x","type":"quantitative"},"y":{"field":"y","type":"quantitative"},"y2":{"field":"y2"}}}
]},
{"width":597,"height":351,"view":{"stroke":"#000","strokeWidth":1.3},"title":{"text":"Disdrometer and Weather station","offset":7.5},"data":{"values":[{"t":0,"r":0,"s":"OTT HydroMet Parsivel2"},{"t":6,"r":0,"s":"OTT HydroMet Parsivel2"},{"t":12,"r":0,"s":"OTT HydroMet Parsivel2"},{"t":18,"r":0,"s":"OTT HydroMet Parsivel2"},{"t":23.97,"r":0,"s":"OTT HydroMet Parsivel2"}]},"mark":{"type":"line","strokeWidth":2.5},"encoding":{"x":{"field":"t","type":"quantitative","title":"Time [UTC]","scale":{"domain":[0,23.97],"nice":false},"axis":{"values":[0,1,2,3,4,5,6,7,8,9,10,11,12,13,14,15,16,17,18,19,20,21,22,23],"labelExpr":"datum.value%3===0?((datum.value<10?'0':'')+datum.value+':00'):''","tickSize":{"condition":{"test":"datum.value%3===0","value":5},"value":3},"gridOpacity":{"condition":{"test":"datum.value%3===0&&datum.value>0","value":1},"value":0}}},"y":{"field":"r","type":"quantitative","title":"Cumulative rainfall [mm]","scale":{"domain":[-1,1],"nice":false},"axis":{"titleX":-60,"values":[0],"format":"d","tickSize":5}},"color":{"field":"s","type":"nominal","scale":{"range":["#f4926a"]},"legend":{"title":null,"orient":"none","legendX":330,"legendY":309.5,"fillColor":"#fff","strokeColor":"#d0d0d0","cornerRadius":4,"padding":6,"labelFontSize":16.6,"labelColor":"#000","labelLimit":400,"symbolType":"M-1.9,0H1.9","symbolSize":361,"symbolOffset":8.5,"symbolStrokeWidth":2.5,"labelOffset":15}}}},
{"width":158.6,"height":351,"data":{"values":[]},"mark":"rect"},
{"width":636,"height":351,"view":{"stroke":"#000","strokeWidth":1.3},"title":{"text":"Relationship disdrometer fall speed / drop size","offset":-0.5},"data":{"values":[{"d":2,"f":4,"n":"No data"}]},"mark":{"type":"text","align":"left","baseline":"alphabetic","fontStyle":"italic","fontSize":19,"font":"DejaVu Sans","color":"#000","dy":-1},"encoding":{"x":{"field":"d","type":"quantitative","title":"Diameter [mm]","scale":{"domain":[0,5],"nice":false},"axis":{"values":[0,0.5,1,1.5,2,2.5,3,3.5,4,4.5,5],"labelExpr":"datum.value%1===0?datum.value:''","tickSize":{"condition":{"test":"datum.value%1===0","value":5},"value":3},"gridOpacity":{"condition":{"test":"datum.value%1===0&&datum.value>0&&datum.value<5","value":1},"value":0}}},"y":{"field":"f","type":"quantitative","title":"Fall speed [m.s\u207b\u00b9]","scale":{"domain":[0,10],"nice":false},"axis":{"titleX":-62,"titleFontSize":20.5,"values":[0,1,2,3,4,5,6,7,8,9,10],"labelExpr":"datum.value%2===0?datum.value:''","tickSize":{"condition":{"test":"datum.value%2===0","value":5},"value":3},"gridOpacity":{"condition":{"test":"datum.value%2===0&&datum.value>0&&datum.value<10","value":1},"value":0}}},"text":{"field":"n"}}}
]}
